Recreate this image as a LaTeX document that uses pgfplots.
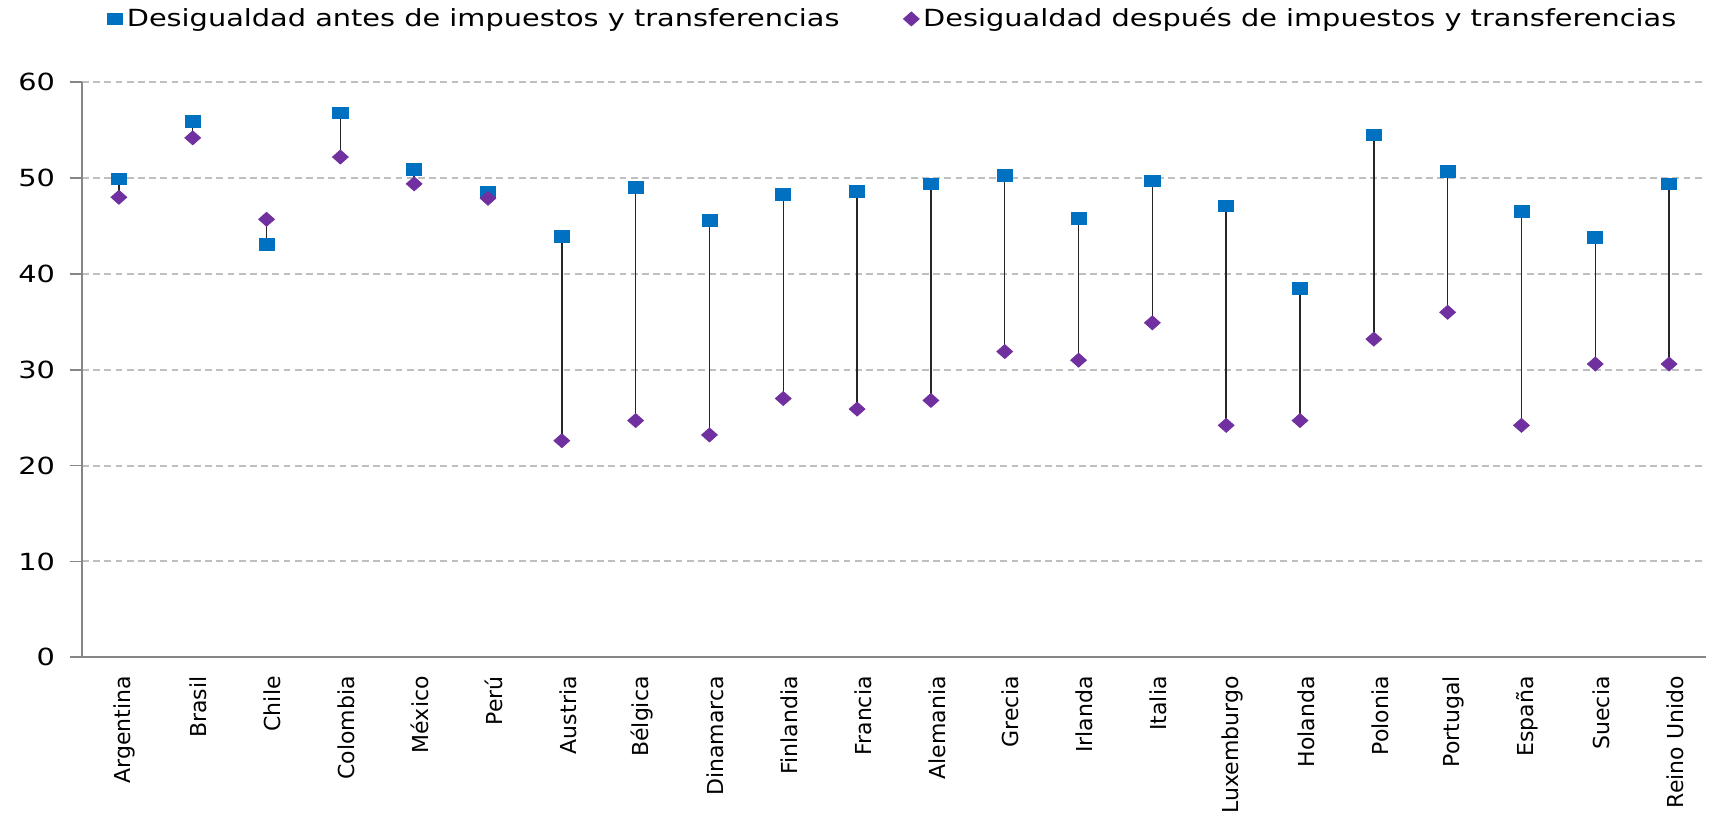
\documentclass[border=0pt]{standalone}
\usepackage{pgfplots}
\usepackage{pgfplotstable}
\pgfplotsset{compat=1.18}
\usepackage{fontspec}
\setmainfont{DejaVu Sans}
\newfontfamily\widefont{DejaVu Sans}[FakeStretch=1.22]
\definecolor{cblue}{HTML}{0070C0}
\definecolor{cpurp}{HTML}{7030A0}
\definecolor{gridc}{HTML}{BFBFBF}
\definecolor{axc}{HTML}{868686}

\pgfplotstableread{
idx before after
0  49.9 48.0
1  55.9 54.2
2  43.1 45.7
3  56.8 52.2
4  50.9 49.4
5  48.5 47.9
6  43.9 22.6
7  49.0 24.7
8  45.6 23.2
9  48.3 27.0
10 48.6 25.9
11 49.4 26.8
12 50.3 31.9
13 45.8 31.0
14 49.7 34.9
15 47.1 24.2
16 38.5 24.7
17 54.5 33.2
18 50.7 36.0
19 46.5 24.2
20 43.8 30.6
21 49.4 30.6
}\data

\begin{document}
\begin{tikzpicture}
\path (-41pt,-81.5pt) rectangle (815.5pt,328.5pt);
\begin{axis}[
  at={(0,0)}, anchor=south west,
  scale only axis, width=812pt, height=287.5pt,
  xmin=-0.5, xmax=21.5, ymin=0, ymax=60,
  ytick={0,10,20,30,40,50,60},
  xtick={0,1,...,21},
  xticklabels={Argentina,Brasil,Chile,Colombia,México,Perú,Austria,Bélgica,Dinamarca,Finlandia,Francia,Alemania,Grecia,Irlanda,Italia,Luxemburgo,Holanda,Polonia,Portugal,España,Suecia,Reino Unido},
  axis x line=bottom, axis y line=left,
  axis line style={draw=axc, line width=0.8pt, -},
  xtick style={draw=none},
  ytick style={draw=axc, line width=0.8pt},
  tick align=outside, major tick length=6pt,
  ymajorgrids,
  grid style={gridc, line width=1pt, dash pattern=on 3.4pt off 2.2pt},
  /pgf/number format/assume math mode=true,
  yticklabel style={font=\widefont\fontsize{11.8}{14}\selectfont, xshift=-4pt},
  xticklabel style={font=\fontsize{11}{13}\selectfont, rotate=90, anchor=east, yshift=-3pt},
  legend columns=2,
  legend style={at={(0.5,1)}, anchor=south, yshift=22pt, draw=none,
    font=\widefont\fontsize{11.8}{14}\selectfont,
    /tikz/every even column/.append style={column sep=30pt}},
  legend image code/.code={\draw[mark repeat=2,mark phase=2,#1] plot coordinates {(0cm,0cm)(0.15cm,0cm)(0.3cm,0cm)};},
  clip=false,
]
\addplot[draw=none, mark=none, forget plot,
  error bars/.cd, y dir=minus, y explicit,
  error mark=none, error bar style={black!85, line width=0.75pt}]
  table[x=idx, y=before, y error minus expr={\thisrow{before}-\thisrow{after}}] {\data};
\addplot[only marks, mark=square*, mark size=2.9pt, mark options={xscale=1.3}, color=cblue] table[x=idx, y=before] {\data};
\addlegendentry{Desigualdad antes de impuestos y transferencias}
\addplot[only marks, mark=diamond*, mark size=3.5pt, mark options={xscale=1.5}, color=cpurp] table[x=idx, y=after] {\data};
\addlegendentry{Desigualdad después de impuestos y transferencias}
\end{axis}
\end{tikzpicture}
\end{document}
